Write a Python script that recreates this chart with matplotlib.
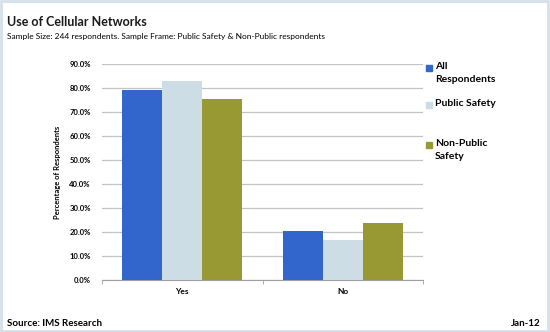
import matplotlib.pyplot as plt
import numpy as np
from matplotlib.patches import Rectangle

categories = ['Yes', 'No']
series_names = ['All\nRespondents', 'Public Safety', 'Non-Public\nSafety']
all_resp = [79.3, 20.4]
public_safety = [83.0, 16.5]
non_public = [75.6, 23.8]
colors = ['#3366cc', '#cddde6', '#999933']

plt.rcParams['font.family'] = ['Lato', 'DejaVu Sans']

fig = plt.figure(figsize=(5.5, 3.32), dpi=100)
ax = fig.add_axes([102 / 550, 1 - 280 / 332, 321 / 550, 216 / 332])

ind = np.arange(len(categories))
width = 0.25
values = [all_resp, public_safety, non_public]
for i, vals in enumerate(values):
    ax.bar(ind + (i - 1) * width, vals, width, color=colors[i], zorder=3)

ax.set_xlim(-0.5, 1.5)
ax.set_ylim(0, 90)
ax.set_yticks(np.arange(0, 91, 10))
ax.set_yticklabels(['%.1f%%' % v for v in np.arange(0, 91, 10)],
                   fontsize=5.5, fontweight='bold')
ax.yaxis.grid(True, color='#c4c4c4', linewidth=0.9, zorder=0)
ax.tick_params(axis='y', length=0, pad=8)
ax.set_xticks(ind)
ax.set_xticklabels(categories, fontsize=6, fontweight='bold')
ax.set_xticks([-0.5, 0.5, 1.5], minor=True)
ax.tick_params(axis='x', which='major', length=0, pad=6)
ax.tick_params(axis='x', which='minor', length=3, color='#a0a0a0')
for s in ['top', 'right', 'left']:
    ax.spines[s].set_visible(False)
ax.spines['bottom'].set_color('#a0a0a0')
ax.set_ylabel('Percentage of Respondents', fontsize=5.5, fontweight='bold', labelpad=6)

# legend, drawn by hand to match the wrapped entries
leg_y = [67, 104, 144]
for name, c, y in zip(series_names, colors, leg_y):
    fig.patches.append(Rectangle((426 / 550, 1 - (y + 3.5) / 332), 6 / 550, 6 / 332,
                                 transform=fig.transFigure, color=c))
    fig.text(435 / 550, 1 - (y - 5) / 332, name, fontsize=7.5, fontweight='bold',
             va='top', ha='left', linespacing=1.55)

# titles and footer
fig.text(7 / 550, 1 - 22 / 332, 'Use of Cellular Networks', fontsize=9,
         fontweight='bold', va='center', color='#1a1a1a')
fig.text(7 / 550, 1 - 37 / 332,
         'Sample Size: 244 respondents. Sample Frame: Public Safety & Non-Public respondents',
         fontsize=6.0, va='center')
fig.text(7 / 550, 1 - 323 / 332, 'Source: IMS Research', fontsize=7,
         fontweight='bold', va='center')
fig.text(541 / 550, 1 - 323 / 332, 'Jan-12', fontsize=7, fontweight='bold',
         va='center', ha='right')

fig.patches.append(Rectangle((0.002, 0.003), 0.995, 0.993, transform=fig.transFigure,
                             fill=False, edgecolor='#d4e0ea', linewidth=2))

fig.savefig('out.png', dpi=100)
